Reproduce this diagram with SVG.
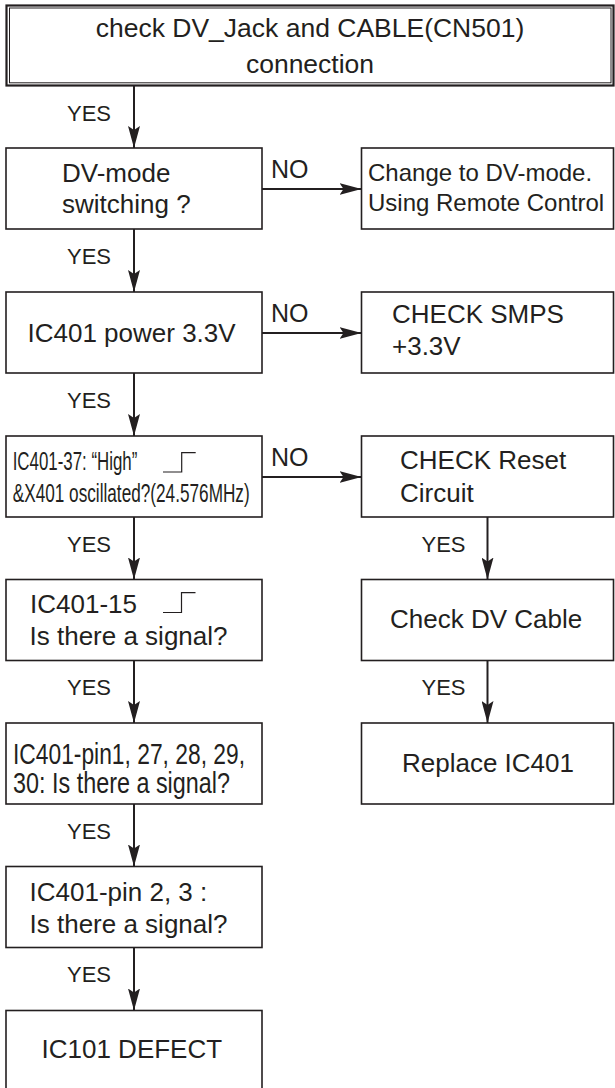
<svg xmlns="http://www.w3.org/2000/svg" width="615" height="1088" viewBox="0 0 615 1088">
<defs>
<marker id="ah" markerUnits="userSpaceOnUse" markerWidth="22" markerHeight="12" refX="22" refY="6" orient="auto">
<path d="M0,0 L22,6 L0,12 L4,6 z" fill="#231f20"/>
</marker>
<style>
.box{fill:#fff;stroke:#231f20;stroke-width:1.6}
.t{font-family:"Liberation Sans",Arial,sans-serif;fill:#231f20}
.c{text-anchor:middle}
.cn{stroke:#231f20;stroke-width:2;fill:none;marker-end:url(#ah)}
.step{stroke:#231f20;stroke-width:1.2;fill:none}
</style>
</defs>
<rect width="615" height="1088" fill="#fff"/>
<g id="start">
<rect x="6.5" y="5.5" width="607" height="80" fill="#fff" stroke="#231f20" stroke-width="2.2"/>
<rect x="9.5" y="8" width="601.5" height="74.8" fill="none" stroke="#231f20" stroke-width="1"/>
<text class="t c" x="310" y="37" font-size="26.5">check DV_Jack and CABLE(CN501)</text>
<text class="t c" x="310" y="73" font-size="26.5">connection</text>
</g>
<g id="dvmode">
<rect class="box" x="6" y="148" width="256" height="81"/>
<text class="t" x="62" y="182" font-size="26">DV-mode</text>
<text class="t" x="62" y="213" font-size="26">switching ?</text>
</g>
<g id="changemode">
<rect class="box" x="361.5" y="148" width="252" height="81"/>
<text class="t" x="368" y="181" font-size="24">Change to DV-mode.</text>
<text class="t" x="368" y="211" font-size="24">Using Remote Control</text>
</g>
<g id="power">
<rect class="box" x="6" y="292" width="256" height="81"/>
<text class="t" x="27.5" y="342" font-size="26">IC401 power 3.3V</text>
</g>
<g id="smps">
<rect class="box" x="361.5" y="292" width="252" height="81"/>
<text class="t" x="392" y="323" font-size="26">CHECK SMPS</text>
<text class="t" x="392" y="355" font-size="26">+3.3V</text>
</g>
<g id="ic401-37">
<rect class="box" x="6" y="436" width="256" height="81"/>
<text class="t" x="12.7" y="470" font-size="25.5" textLength="124.6" lengthAdjust="spacingAndGlyphs">IC401-37: “High”</text>
<polyline class="step" points="163,472 181.7,472 181.7,452.7 195.7,452.7"/>
<text class="t" x="12.7" y="502" font-size="25.5" textLength="237" lengthAdjust="spacingAndGlyphs">&amp;X401 oscillated?(24.576MHz)</text>
</g>
<g id="reset">
<rect class="box" x="361.5" y="436" width="252" height="81"/>
<text class="t" x="400" y="469" font-size="26">CHECK Reset</text>
<text class="t" x="400" y="502" font-size="26">Circuit</text>
</g>
<g id="ic401-15">
<rect class="box" x="6" y="579.5" width="256" height="81"/>
<text class="t" x="30" y="612.5" font-size="26">IC401-15</text>
<polyline class="step" points="163,612.5 181.5,612.5 181.5,592.7 195.5,592.7"/>
<text class="t" x="29.5" y="645" font-size="26">Is there a signal?</text>
</g>
<g id="dvcable">
<rect class="box" x="361.5" y="579.5" width="252" height="81"/>
<text class="t" x="390" y="628" font-size="26">Check DV Cable</text>
</g>
<g id="pin1">
<rect class="box" x="6" y="723" width="256" height="81"/>
<text class="t" x="13" y="763.5" font-size="29" textLength="232" lengthAdjust="spacingAndGlyphs">IC401-pin1, 27, 28, 29,</text>
<text class="t" x="13" y="792.5" font-size="29" textLength="217" lengthAdjust="spacingAndGlyphs">30: Is there a signal?</text>
</g>
<g id="replace">
<rect class="box" x="361.5" y="723" width="252" height="81"/>
<text class="t" x="402" y="772" font-size="26">Replace IC401</text>
</g>
<g id="pin23">
<rect class="box" x="6" y="866.5" width="256" height="81"/>
<text class="t" x="29.5" y="901" font-size="26">IC401-pin 2, 3 :</text>
<text class="t" x="29.5" y="933" font-size="26">Is there a signal?</text>
</g>
<g id="defect">
<rect class="box" x="6" y="1010.5" width="256" height="81"/>
<text class="t" x="41.5" y="1057.5" font-size="26">IC101 DEFECT</text>
</g>
<g id="connectors">
<line class="cn" x1="134" y1="86" x2="134" y2="148"/>
<line class="cn" x1="134" y1="229" x2="134" y2="292"/>
<line class="cn" x1="134" y1="373" x2="134" y2="436"/>
<line class="cn" x1="134" y1="517" x2="134" y2="579.5"/>
<line class="cn" x1="134" y1="660.5" x2="134" y2="723"/>
<line class="cn" x1="134" y1="804" x2="134" y2="866.5"/>
<line class="cn" x1="134" y1="947.5" x2="134" y2="1010.5"/>
<line class="cn" x1="262" y1="189" x2="361.5" y2="189"/>
<line class="cn" x1="262" y1="333" x2="361.5" y2="333"/>
<line class="cn" x1="262" y1="477" x2="361.5" y2="477"/>
<line class="cn" x1="487.5" y1="517" x2="487.5" y2="579.5"/>
<line class="cn" x1="487.5" y1="660.5" x2="487.5" y2="723"/>
<text class="t" font-size="22" x="67" y="121">YES</text>
<text class="t" font-size="22" x="67" y="264">YES</text>
<text class="t" font-size="22" x="67" y="408">YES</text>
<text class="t" font-size="22" x="67" y="552">YES</text>
<text class="t" font-size="22" x="67" y="695">YES</text>
<text class="t" font-size="22" x="67" y="839">YES</text>
<text class="t" font-size="22" x="67" y="982">YES</text>
<text class="t" font-size="22" x="421.5" y="552">YES</text>
<text class="t" font-size="22" x="421.5" y="695">YES</text>
<text class="t" font-size="25" x="271" y="178">NO</text>
<text class="t" font-size="25" x="271" y="322">NO</text>
<text class="t" font-size="25" x="271" y="466">NO</text>
</g>
</svg>
